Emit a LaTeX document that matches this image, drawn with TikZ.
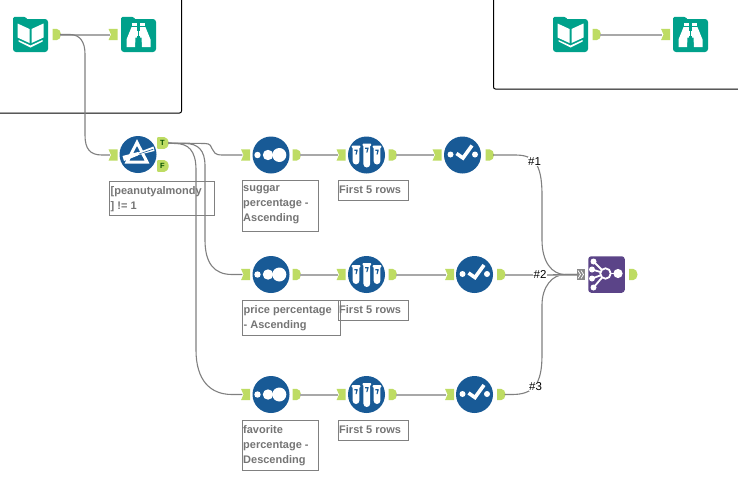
\documentclass[tikz,border=0pt]{standalone}
\usepackage{fontspec}
\setmainfont{Liberation Sans}
\definecolor{tealc}{HTML}{00A18B}
\definecolor{bluec}{HTML}{185A96}
\definecolor{purplec}{HTML}{5B4488}
\definecolor{tabc}{HTML}{BEDC63}
\definecolor{tabgray}{HTML}{8A8A8A}
\definecolor{wire}{HTML}{A8A8A8}
\definecolor{curve}{HTML}{808080}
\definecolor{notec}{HTML}{757575}
\tikzset{
  frame/.style={draw=black,line width=1pt,rounded corners=2pt},
  wireline/.style={draw=wire,line width=2pt},
  curveline/.style={draw=curve,line width=1.1pt},
  tool/.style={circle,fill=bluec,minimum size=37pt,inner sep=0pt},
  folder/.style={rectangle,rounded corners=3pt,fill=tealc,minimum width=35pt,minimum height=33pt,inner sep=0pt},
  union/.style={rectangle,rounded corners=3pt,fill=purplec,minimum size=36.5pt,inner sep=0pt},
  note/.style={draw=black!50,line width=.8pt,inner sep=0pt,anchor=north west},
  notetext/.style={text=notec,font=\fontsize{11}{15}\selectfont\bfseries,align=left,anchor=north west,inner sep=0pt},
  wiretag/.style={fill=white,inner sep=.6pt,font=\fontsize{11.5}{12}\selectfont,text=black},
  tabpin/.style={inner sep=0pt,minimum size=0pt},
  tinyletter/.style={font=\fontsize{7.5}{8}\selectfont\bfseries,text=black!70!green,inner sep=0pt},
}
\newcommand{\intab}[3]{% name, left x, y
  \fill[tabc] (#2-.5,#3-5.7) -- (#2+8.5,#3-5.7) -- (#2+8.5,#3+5.7) -- (#2-.5,#3+5.7)
     -- (#2+2,#3) -- cycle;
  \node[tabpin] (#1) at (#2+1,#3) {};}
\newcommand{\outtab}[3]{% name, left x, y
  \fill[tabc] (#2,#3-5.7) -- (#2+4,#3-5.7) .. controls (#2+6.5,#3-5.7) and (#2+8.5,#3-3) .. (#2+8.5,#3)
     .. controls (#2+8.5,#3+3) and (#2+6.5,#3+5.7) .. (#2+4,#3+5.7) -- (#2,#3+5.7) -- cycle;
  \node[tabpin] (#1) at (#2+7.5,#3) {};}
\newcommand{\bigouttab}[3]{% name, left x, y
  \fill[tabc,rounded corners=1pt] (#2-.5,#3-5.8) -- (#2+6,#3-5.8) .. controls (#2+9,#3-5.8) and (#2+11.2,#3-3) .. (#2+11.2,#3)
     .. controls (#2+11.2,#3+3) and (#2+9,#3+5.8) .. (#2+6,#3+5.8) -- (#2-.5,#3+5.8) -- cycle;
  \node[tabpin] (#1) at (#2+10.5,#3) {};}
\newcommand{\bookicon}[3]{% name, cx, cy
  \fill[tealc,rounded corners=1.5pt] (#2-17.5,#3-10) -- (#2-17.5,#3-17.7) -- (#2-5,#3-17.7) -- (#2-3,#3-15) -- (#2,#3-10) -- cycle;
  \node[folder] (#1) at (#2,#3+1) {};
  \begin{scope}[shift={(#2,#3)}]
    \fill[white] (-13,-11) -- (-1,-5.5) -- (-1,8.5) -- (-13,3) -- cycle;
    \fill[white] (13,-11) -- (1,-5.5) -- (1,8.5) -- (13,3) -- cycle;
    \fill[white] (-12,5.5) -- (0,11) -- (12,5.5) -- (12,7) -- (0,13) -- (-12,7) -- cycle;
  \end{scope}}
\newcommand{\browseicon}[3]{% name, cx, cy
  \fill[tealc,rounded corners=1.5pt] (#2-17.5,#3-10) -- (#2-17.5,#3-17.7) -- (#2-5,#3-17.7) -- (#2-3,#3-15) -- (#2,#3-10) -- cycle;
  \node[folder] (#1) at (#2,#3+1) {};
  \begin{scope}[shift={(#2,#3)}]
    \fill[white] (-6.8,-11.5) rectangle (-1.6,-8.5);
    \fill[white] (1.6,-11.5) rectangle (6.8,-8.5);
    \fill[white] (-7,-7.3) -- (-1.6,-7.3) -- (-1.6,3) -- (-3,3) -- (-3.5,12.5) -- (-12,12.5) -- (-12,5) -- cycle;
    \fill[white] (7,-7.3) -- (1.6,-7.3) -- (1.6,3) -- (3,3) -- (3.5,12.5) -- (12,12.5) -- (12,5) -- cycle;
    \fill[white] (-1.6,-4) rectangle (-.5,1.5);
    \fill[white] (1.6,-4) rectangle (.5,1.5);
  \end{scope}}
\newcommand{\filtericon}[3]{%
  \node[tool] (#1) at (#2,#3) {};
  \begin{scope}[shift={(#2,#3)}]
    \fill[white] (-15.5,1.5) -- (0,-2.5) -- (0,1) -- (-14,6.5) -- cycle;
    \draw[white,line width=3pt,line join=miter] (-1,-12) -- (9,7.5) -- (-11,7.5) -- cycle;
    \fill[white] (0,-2) -- (15.5,-8) -- (16.5,-3.5) -- (0,.5) -- cycle;
    \fill[bluec] (1,-.8) -- (15,-5.6) -- (15.5,-5) -- (1,-.3) -- cycle;
  \end{scope}}
\newcommand{\sorticon}[3]{%
  \node[tool] (#1) at (#2,#3) {};
  \fill[white] (#2-13.5,#3) circle (3.2);
  \fill[white] (#2-3,#3) circle (5.2);
  \fill[white] (#2+8.3,#3) circle (7);}
\newcommand{\tube}[3]{% cx, cy top, height
  \fill[white,rounded corners=.8pt] (#1-4.3,#2-1.5) rectangle (#1+4.3,#2+1);
  \fill[white] (#1-3.4,#2) -- (#1+3.4,#2) -- (#1+3.4,#2+#3-3.4) arc (0:180:3.4) -- cycle;
  \fill[bluec] (#1-1.7,#2+2.5) -- (#1+1.7,#2+2.5) -- (#1+1.7,#2+3.6) -- (#1+.6,#2+7.5) -- (#1-.5,#2+7.5) -- (#1+.3,#2+3.8) -- (#1-1.7,#2+3.8) -- cycle;}
\newcommand{\sampleicon}[3]{%
  \node[tool] (#1) at (#2,#3) {};
  \tube{#2-10.5}{#3-8}{17.5}
  \tube{#2+.3}{#3-10}{22.5}
  \tube{#2+10.5}{#3-8}{17.5}}
\newcommand{\selecticon}[3]{%
  \node[tool] (#1) at (#2,#3) {};
  \fill[white] (#2-12,#3-.5) circle (3);
  \fill[white] (#2+12.5,#3-.5) circle (3);
  \draw[white,line width=3.6pt,line join=miter] (#2-6,#3-1.5) -- (#2+.5,#3+3) -- (#2+9.5,#3-9.5);}
\newcommand{\unionicon}[3]{%
  \node[union] (#1) at (#2,#3) {};
  \begin{scope}[shift={(#2,#3)}]
    \draw[white,line width=1.8pt] (-13,-13) -- (-1,-1) (-14.5,-5) -- (-1,-1) (-14.5,4) -- (-1,-1) (-13,13) -- (-1,-1);
    \draw[white,line width=1.8pt] (3,-1) -- (11,-1);
    \fill[white] (-13,-13) circle (3) (-14.5,-5) circle (3) (-14.5,4) circle (3) (-13,13) circle (3);
    \fill[purplec] (-1,-1) circle (5.5);
    \draw[white,line width=1.8pt] (-1,-1) circle (5.2);
    \fill[white] (11.5,-1) circle (4.6);
  \end{scope}}
\newcommand{\notebox}[6]{% name, x1, y1, x2, y2, text
  \node[note,minimum width=#4pt-#2pt-.8pt,minimum height=#5pt-#3pt-.8pt] (#1) at (#2,#3) {};
  \node[notetext] (#1t) at (#2+1.5,#3+5.5) {#6};}
\begin{document}
\begin{tikzpicture}[x=1pt,y=-1pt]
\useasboundingbox (0,0) rectangle (738,482);
\fill[white] (0,0) rectangle (738,482);
% frames
\coordinate (f1a) at (-5,113); \coordinate (f1b) at (181.5,113); \coordinate (f1c) at (181.5,-5);
\draw[frame] (f1a) -- (f1b) -- (f1c);
\coordinate (f2a) at (493.5,-5); \coordinate (f2b) at (493.5,89); \coordinate (f2c) at (745,89);
\draw[frame] (f2a) -- (f2b) -- (f2c);
% tabs
\outtab{bo1}{52.5}{34.5}
\intab{bi1}{109}{34.5}
\outtab{bo2}{592.5}{34.5}
\intab{bi2}{661.5}{34.5}
\intab{fi}{109}{155}
\bigouttab{ft}{157.5}{143}
\bigouttab{ff}{157.5}{166}
\foreach \r/\y in {1/155,2/274.5,3/394.5}{
  \intab{si\r}{241.5}{\y}
  \outtab{so\r}{292.5}{\y}
  \intab{ti\r}{337}{\y}
  \outtab{to\r}{388.5}{\y}
}
\intab{ci1}{433}{155}
\outtab{co1}{485.5}{155}
\intab{ci2}{445.5}{274.5}
\outtab{co2}{497}{274.5}
\intab{ci3}{445.5}{394.5}
\outtab{co3}{497}{394.5}
\outtab{uo}{629}{274.5}
\fill[tabgray] (577,269) rectangle (585,280);
\node[tabpin] (ui) at (577,274.5) {};
\draw[white,line width=.7pt] (578,270.5) -- (580.5,274.5) -- (578,278.5) (581,270.5) -- (583.5,274.5) -- (581,278.5);
\node[tinyletter] at (162.5,143) {T};
\node[tinyletter] at (162.5,166) {F};
% icons
\bookicon{bk1}{30.5}{34.5}
\browseicon{br1}{138.5}{34.5}
\bookicon{bk2}{570.5}{34.5}
\browseicon{br2}{690.5}{34.5}
\filtericon{flt}{138}{154.5}
\sorticon{s1}{271}{155}
\sorticon{s2}{271}{274.5}
\sorticon{s3}{271}{394.5}
\sampleicon{t1}{366.5}{155}
\sampleicon{t2}{366.5}{274.5}
\sampleicon{t3}{366.5}{394.5}
\selecticon{c1}{462.5}{155}
\selecticon{c2}{474.5}{274.5}
\selecticon{c3}{474.5}{394.5}
\unionicon{un}{606.5}{274.5}
% straight connectors
\draw[wireline] (bo1) -- (bi1);
\draw[wireline] (bo2) -- (bi2);
\foreach \r in {1,2,3}{
  \draw[wireline] (so\r) -- (ti\r);
  \draw[wireline] (to\r) -- (ci\r);
}
% curved connectors
\draw[curveline] (bo1) -- (70,34.5) .. controls (80,34.5) and (85,42) .. (85,54) -- (85,135)
  .. controls (85,149) and (90,155) .. (102,155) -- (fi);
\draw[curveline] (ft) -- (205,143.5) .. controls (216,143.5) and (208,155) .. (222,155) -- (si1);
\draw[curveline] (ft) -- (185,143.5) .. controls (198,143.5) and (205,150) .. (205,166) -- (205,240)
  .. controls (205,263) and (214,274.5) .. (232,274.5) -- (si2);
\draw[curveline] (ft) -- (175,143.5) .. controls (188,143.5) and (196,150) .. (196,170) -- (196,350)
  .. controls (196,380) and (210,394.5) .. (232,394.5) -- (si3);
\coordinate (j1) at (542,195);
\coordinate (j3) at (542,355);
\draw[curveline] (co1) -- (515,155) .. controls (533,155) and (542,162) .. (j1) -- (542,240)
  .. controls (542,262) and (552,274.5) .. (565,274.5) -- (ui);
\draw[curveline] (co3) -- (512,394.5) .. controls (533,394.5) and (542,385) .. (j3) -- (542,305)
  .. controls (542,287) and (552,274.5) .. (565,274.5) -- (ui);
\draw[wireline] (co2) -- (ui);
\draw[curve,line width=1.2pt] (553,274.5) -- (ui);
\node[wiretag] (lab1) at (534.5,161.5) {\#1};
\node[wiretag] (lab2) at (540,274.5) {\#2};
\node[wiretag] (lab3) at (535.5,386.5) {\#3};
% annotations
\notebox{n1}{109}{180.5}{214.5}{216}{[peanutyalmondy\\] != 1}
\notebox{n2}{241.5}{180}{318.5}{231.5}{suggar\\percentage -\\Ascending}
\notebox{n3}{337.5}{180}{408.5}{201}{First 5 rows}
\notebox{n4}{242}{300}{341}{336}{price percentage\\- Ascending}
\notebox{n5}{337.5}{300}{408.5}{321}{First 5 rows}
\notebox{n6}{241.5}{420}{318.5}{471}{favorite\\percentage -\\Descending}
\notebox{n7}{337.5}{420}{408.5}{441}{First 5 rows}
\end{tikzpicture}
\end{document}
